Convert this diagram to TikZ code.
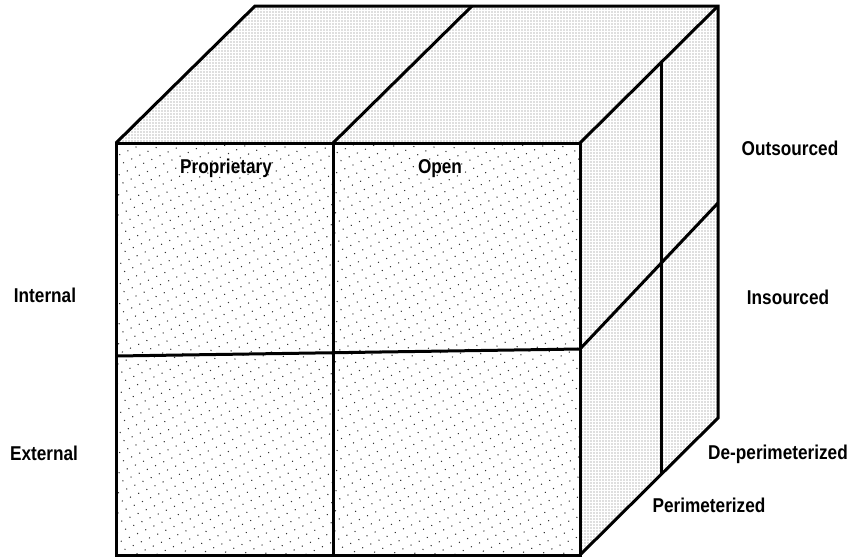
\documentclass[tikz,border=0pt]{standalone}
\usepackage{fontspec}
\setmainfont{Liberation Sans}[FakeStretch=0.86]
\usetikzlibrary{patterns.meta}

\begin{document}
\begin{tikzpicture}[x=1pt, y=-1pt,
    face/.style={pattern={Dots[distance=9pt, angle=25, radius=0.75pt]}, pattern color=black!80},
    side/.style={pattern={Dots[distance=3pt, radius=0.6pt]}, pattern color=black!55},
    edge/.style={line width=3pt, line join=miter},
    lbl/.style={font=\bfseries\fontsize{20}{24}\selectfont, anchor=base, inner sep=0pt}
]
\useasboundingbox (0,0) rectangle (855,558);

% corners of the cube
\coordinate (fa) at (116,143);
\coordinate (fb) at (580,143);
\coordinate (fc) at (580,555);
\coordinate (fd) at (116,555);
\coordinate (ba) at (255,6);
\coordinate (bb) at (718,6);
\coordinate (bc) at (718,418);

% dividing points
\coordinate (fm) at (333,143);
\coordinate (bm) at (472,6);
\coordinate (fmb) at (333,555);
\coordinate (fl) at (116,356);
\coordinate (fr) at (580,349);
\coordinate (br) at (718,203);
\coordinate (rt) at (661,63);
\coordinate (rb) at (661,474);

% faces
\fill[face] (fa) rectangle (fc);
\fill[side] (fa) -- (ba) -- (bb) -- (fb) -- cycle;
\fill[side] (fb) -- (bb) -- (bc) -- (fc) -- cycle;

% edges
\draw[edge] (fa) rectangle (fc);
\draw[edge] (fa) -- (ba) -- (bb) -- (bc) -- (fc);
\draw[edge] (bb) -- (fb);
\draw[edge] (fm) -- (bm);
\draw[edge] (fm) -- (fmb);
\draw[edge] (fl) -- (fr) -- (br);
\draw[edge] (rt) -- (rb);

% labels
\node[lbl] (prop) at (226,173) {Proprietary};
\node[lbl] (open) at (440,173) {Open};
\node[lbl] (outs) at (790,155) {Outsourced};
\node[lbl] (ins) at (788,304) {Insourced};
\node[lbl] (deper) at (778,459) {De-perimeterized};
\node[lbl] (per) at (709,512) {Perimeterized};
\node[lbl] (int) at (45,302) {Internal};
\node[lbl] (ext) at (44,460) {External};

\end{tikzpicture}
\end{document}
